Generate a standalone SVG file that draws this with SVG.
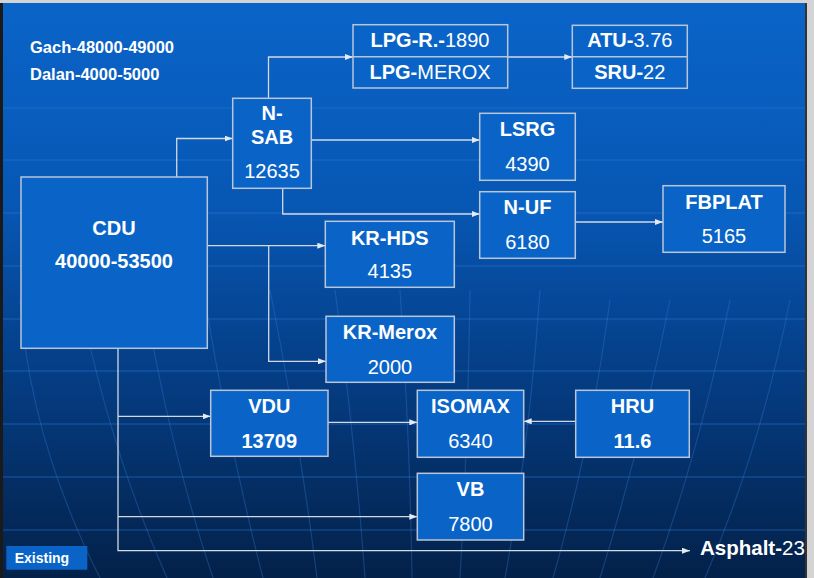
<svg xmlns="http://www.w3.org/2000/svg" width="814" height="578" viewBox="0 0 814 578">
  <defs>
    <linearGradient id="bg" x1="0" y1="0" x2="0" y2="1">
      <stop offset="0" stop-color="#0a64c8"/>
      <stop offset="0.35" stop-color="#0757b4"/>
      <stop offset="0.6" stop-color="#05418c"/>
      <stop offset="1" stop-color="#032149"/>
    </linearGradient>
    <marker id="arr" viewBox="0 0 8 6" refX="8" refY="3" markerWidth="8" markerHeight="6" markerUnits="userSpaceOnUse" orient="auto">
      <path d="M0,0 L8,3 L0,6 z" fill="#e6eaf2"/>
    </marker>
    <style>
      .box { fill: #0a64c8; stroke: #b9c5d8; stroke-width: 1.5; }
      .conn { fill: none; stroke: #d2d9e4; stroke-width: 1.3; }
      .t { font-family: "Liberation Sans", Arial, sans-serif; fill: #ffffff; font-size: 20px; text-anchor: middle; }
      .b { font-weight: bold; }
      .n { font-weight: normal; }
      .grid { stroke: #2f7fe0; stroke-width: 1.5; opacity: 0.35; fill: none; }
      .mer { stroke: #3a86e6; stroke-width: 1.2; opacity: 0.3; fill: none; }
    </style>
  </defs>

  <rect x="0" y="0" width="814" height="578" fill="#d4d4d4"/>
  <rect x="0" y="3" width="808" height="575" fill="#1a1a1a"/>
  <rect x="3" y="3" width="802" height="575" fill="url(#bg)"/>

  <g id="background-decor">
    <path class="grid" d="M3,108 H805 M3,160 H805 M3,213 H805 M3,266 H805 M3,319 H805 M3,371 H805 M3,424 H805 M3,477 H805 M3,530 H805"/>
    <path class="mer" d="M20,300 Q30,440 100,578 M80,300 Q110,450 167,578 M145,300 Q170,450 213,578 M205,300 Q230,450 263,578 M270,290 Q300,440 317,578 M335,290 Q355,440 365,578 M400,290 Q410,440 412,578 M470,290 Q468,440 460,578 M540,290 Q530,440 505,578 M610,300 Q590,450 553,578 M670,300 Q640,450 600,578 M730,300 Q700,450 653,578 M790,300 Q760,450 705,578"/>
  </g>

  <g id="legend-text">
    <text class="t b" x="30" y="53" style="font-size:16.5px;text-anchor:start">Gach-48000-49000</text>
    <text class="t b" x="30" y="80" style="font-size:16.5px;text-anchor:start">Dalan-4000-5000</text>
  </g>

  <g id="connectors">
    <path class="conn" d="M176.7,177 V138.5 H232.5" marker-end="url(#arr)"/>
    <path class="conn" d="M268.5,98.3 V57 H353" marker-end="url(#arr)"/>
    <path class="conn" d="M507.7,57 H572.3" marker-end="url(#arr)"/>
    <path class="conn" d="M311.3,140 H479.7" marker-end="url(#arr)"/>
    <path class="conn" d="M282.7,188.3 V214 H479.7" marker-end="url(#arr)"/>
    <path class="conn" d="M575.3,222 H663" marker-end="url(#arr)"/>
    <path class="conn" d="M207.3,245.7 H325.3" marker-end="url(#arr)"/>
    <path class="conn" d="M268.7,245.7 V361.3 H326" marker-end="url(#arr)"/>
    <path class="conn" d="M118,348.3 V550.7 H690" marker-end="url(#arr)"/>
    <path class="conn" d="M118,416.3 H210.7" marker-end="url(#arr)"/>
    <path class="conn" d="M118,516.7 H417.3" marker-end="url(#arr)"/>
    <path class="conn" d="M328,422.3 H417.3" marker-end="url(#arr)"/>
    <path class="conn" d="M575.7,421.3 H523.7" marker-end="url(#arr)"/>
  </g>

  <g id="CDU">
    <rect class="box" x="21" y="177" width="186.3" height="171.3"/>
    <text class="t b" x="114" y="235">CDU</text>
    <text class="t b" x="114" y="268">40000-53500</text>
  </g>

  <g id="N-SAB">
    <rect class="box" x="232.7" y="98.3" width="78.6" height="90"/>
    <text class="t b" x="272" y="120">N-</text>
    <text class="t b" x="272" y="144">SAB</text>
    <text class="t n" x="272" y="178">12635</text>
  </g>

  <g id="LPG">
    <rect class="box" x="353" y="24.7" width="154.7" height="63.3"/>
    <line x1="353" y1="56.7" x2="507.7" y2="56.7" stroke="#b9c5d8" stroke-width="1.5"/>
    <text class="t" x="430" y="47"><tspan class="b">LPG-R.-</tspan><tspan class="n">1890</tspan></text>
    <text class="t" x="430" y="78.5"><tspan class="b">LPG-</tspan><tspan class="n">MEROX</tspan></text>
  </g>

  <g id="ATU-SRU">
    <rect class="box" x="572.3" y="25.3" width="115" height="63"/>
    <line x1="572.3" y1="56.7" x2="687.3" y2="56.7" stroke="#b9c5d8" stroke-width="1.5"/>
    <text class="t" x="629.8" y="47"><tspan class="b">ATU-</tspan><tspan class="n">3.76</tspan></text>
    <text class="t" x="629.8" y="78.5"><tspan class="b">SRU-</tspan><tspan class="n">22</tspan></text>
  </g>

  <g id="LSRG">
    <rect class="box" x="479.7" y="113.3" width="95.6" height="67"/>
    <text class="t b" x="527.5" y="136">LSRG</text>
    <text class="t n" x="527.5" y="171">4390</text>
  </g>

  <g id="N-UF">
    <rect class="box" x="479.7" y="191.7" width="95.6" height="66.6"/>
    <text class="t b" x="527.5" y="213.5">N-UF</text>
    <text class="t n" x="527.5" y="248.5">6180</text>
  </g>

  <g id="FBPLAT">
    <rect class="box" x="663" y="185.7" width="122" height="66.6"/>
    <text class="t b" x="724" y="208.5">FBPLAT</text>
    <text class="t n" x="724" y="243">5165</text>
  </g>

  <g id="KR-HDS">
    <rect class="box" x="325.3" y="221.3" width="129" height="66"/>
    <text class="t b" x="389.8" y="244.5">KR-HDS</text>
    <text class="t n" x="389.8" y="278">4135</text>
  </g>

  <g id="KR-Merox">
    <rect class="box" x="326" y="316.3" width="128.3" height="66"/>
    <text class="t b" x="390" y="339">KR-Merox</text>
    <text class="t n" x="390" y="374">2000</text>
  </g>

  <g id="VDU">
    <rect class="box" x="210.7" y="390.3" width="117.3" height="66"/>
    <text class="t b" x="269.3" y="413">VDU</text>
    <text class="t b" x="269.3" y="448">13709</text>
  </g>

  <g id="ISOMAX">
    <rect class="box" x="417.3" y="390.3" width="106.4" height="67"/>
    <text class="t b" x="470.5" y="413">ISOMAX</text>
    <text class="t n" x="470.5" y="448">6340</text>
  </g>

  <g id="HRU">
    <rect class="box" x="575.7" y="390.3" width="113.6" height="67"/>
    <text class="t b" x="632.5" y="413">HRU</text>
    <text class="t b" x="632.5" y="448">11.6</text>
  </g>

  <g id="VB">
    <rect class="box" x="417.3" y="473.3" width="106.4" height="66.7"/>
    <text class="t b" x="470.5" y="496">VB</text>
    <text class="t n" x="470.5" y="531">7800</text>
  </g>

  <g id="Asphalt">
    <text class="t" x="700" y="555" style="text-anchor:start;font-size:20.5px"><tspan class="b">Asphalt-</tspan><tspan class="n">23</tspan></text>
  </g>

  <g id="Existing">
    <rect x="6.3" y="546" width="81" height="23.7" fill="#0a64c8"/>
    <text class="t b" x="14.7" y="562.5" style="font-size:14px;text-anchor:start">Existing</text>
  </g>

  <rect x="805" y="0" width="9" height="578" fill="#d4d4d4"/>
  <rect x="805" y="3" width="2" height="575" fill="#333"/>
</svg>
